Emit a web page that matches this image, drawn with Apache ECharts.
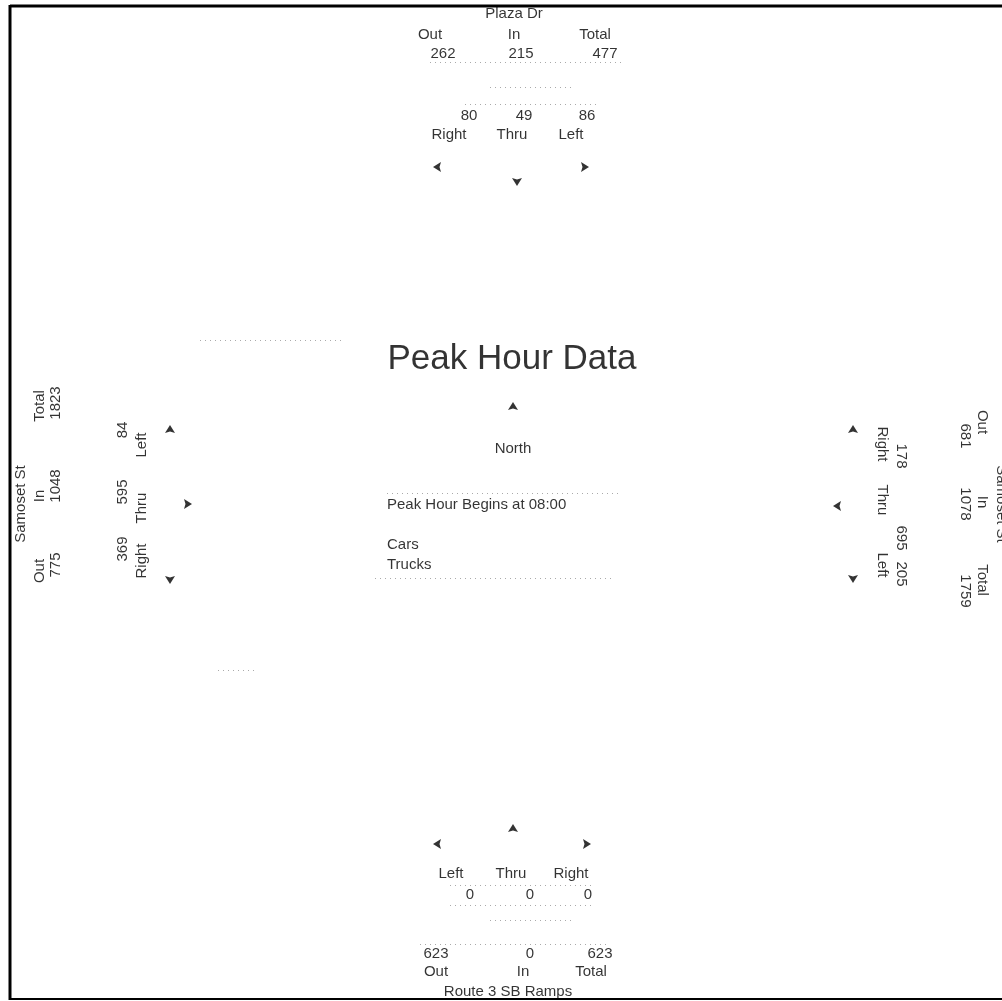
<!DOCTYPE html>
<html>
<head>
<meta charset="utf-8">
<script src="https://cdn.jsdelivr.net/npm/echarts@6/dist/echarts.min.js"></script>
<style>
html,body{margin:0;padding:0;background:#fff;}
#chart{width:1002px;height:1001px;}
</style>
</head>
<body>
<div id="chart"></div>
<script>
// ---------------- DATA ----------------
const title = 'Peak Hour Data';
const northLabel = 'North';
const peakText = 'Peak Hour Begins at 08:00';
const legendItems = ['Cars', 'Trucks'];
const flowLabels = ['Out', 'In', 'Total'];
const moveLabels = ['Right', 'Thru', 'Left'];

const northName = 'Plaza Dr';
const northFlows = [262, 215, 477];   // Out, In, Total
const northMoves = [80, 49, 86];      // Right, Thru, Left

const westName = 'Samoset St';
const westFlows = [775, 1048, 1823];
const westMoves = [369, 595, 84];

const eastName = 'Samoset St';
const eastFlows = [681, 1078, 1759];
const eastMoves = [178, 695, 205];

const southName = 'Route 3 SB Ramps';
const southFlows = [623, 0, 623];
const southMoves = [0, 0, 0];

// ---------------- LAYOUT ----------------
const FONT = '"Liberation Sans", Arial, sans-serif';
const FS = 15;
const L = {
  north: {
    name: [514, 14],
    flowLab: {xs: [430, 514, 595], y: 35},
    flowVal: {xs: [443, 521, 605], y: 54},
    moveVal: {xs: [469, 524, 587], y: 116},
    moveLab: {xs: [449, 512, 571], y: 135},
    arrows: [[437, 167, 90], [517, 182, 180], [585, 167, -90]]
  },
  west: {
    name: [21, 504],
    flowLab: {ys: [571, 496, 406], x: 40},
    flowVal: {ys: [565, 486, 403], x: 56},
    moveVal: {ys: [549, 492, 430], x: 123},
    moveLab: {ys: [561, 508, 445], x: 142},
    arrows: [[170, 580, 180], [188, 504, -90], [170, 429, 0]]
  },
  east: {
    name: [994, 504],
    flowLab: {ys: [422, 502, 580], x: 982},
    flowVal: {ys: [436, 504, 591], x: 965},
    moveVal: {ys: [456, 538, 574], x: 901},
    moveLab: {ys: [444, 500, 565], x: 882},
    arrows: [[853, 429, 0], [837, 506, 90], [853, 579, 180]]
  },
  south: {
    name: [508, 992],
    flowLab: {xs: [436, 523, 591], y: 972},
    flowVal: {xs: [436, 530, 600], y: 954},
    moveVal: {xs: [588, 530, 470], y: 895},   // Right, Thru, Left
    moveLab: {xs: [571, 511, 451], y: 874},
    arrows: [[587, 844, -90], [513, 828, 0], [437, 844, 90]]
  }
};

// ---------------- BUILD ----------------
const texts = [];
const arrows = [];
function addText(x, y, str, rot, size, align, vAlign) {
  texts.push({
    name: String(str),
    value: [x, y],
    label: {rotate: rot || 0, fontSize: size || FS, align: align || 'center', verticalAlign: vAlign || 'middle'}
  });
}
function horiz(cfg, name, flows, moves) {
  addText(cfg.name[0], cfg.name[1], name, 0);
  flowLabels.forEach((t, i) => addText(cfg.flowLab.xs[i], cfg.flowLab.y, t, 0));
  flows.forEach((v, i) => addText(cfg.flowVal.xs[i], cfg.flowVal.y, v, 0));
  moves.forEach((v, i) => addText(cfg.moveVal.xs[i], cfg.moveVal.y, v, 0));
  moveLabels.forEach((t, i) => addText(cfg.moveLab.xs[i], cfg.moveLab.y, t, 0));
  cfg.arrows.forEach(a => arrows.push({value: [a[0], a[1]], symbolRotate: a[2]}));
}
function vert(cfg, name, flows, moves, rot, nameVAlign) {
  addText(cfg.name[0], cfg.name[1], name, rot, FS, 'center', nameVAlign);
  flowLabels.forEach((t, i) => addText(cfg.flowLab.x, cfg.flowLab.ys[i], t, rot));
  flows.forEach((v, i) => addText(cfg.flowVal.x, cfg.flowVal.ys[i], v, rot));
  moves.forEach((v, i) => addText(cfg.moveVal.x, cfg.moveVal.ys[i], v, rot));
  moveLabels.forEach((t, i) => addText(cfg.moveLab.x, cfg.moveLab.ys[i], t, rot));
  cfg.arrows.forEach(a => arrows.push({value: [a[0], a[1]], symbolRotate: a[2]}));
}
horiz(L.north, northName, northFlows, northMoves);
horiz(L.south, southName, southFlows, southMoves);
vert(L.west, westName, westFlows, westMoves, 90, 'middle');
vert(L.east, eastName, eastFlows, eastMoves, -90, 'bottom');

addText(512, 359, title, 0, 35);
addText(513, 449, northLabel, 0);
addText(387, 505, peakText, 0, FS, 'left');
legendItems.forEach((t, i) => addText(387, 545 + i * 20, t, 0, FS, 'left'));
arrows.push({value: [513, 406], symbolRotate: 0});

// faint dotted guide segments (scan grid remnants)
const dotted = [
  [[387, 493], [620, 493]],
  [[375, 578], [615, 578]],
  [[465, 104], [600, 104]],
  [[430, 62], [625, 62]],
  [[490, 87], [575, 87]],
  [[450, 885], [595, 885]],
  [[450, 905], [595, 905]],
  [[490, 920], [575, 920]],
  [[420, 944], [610, 944]],
  [[200, 340], [345, 340]],
  [[218, 670], [256, 670]]
];

const chart = echarts.init(document.getElementById('chart'), null, {renderer: 'canvas'});
chart.setOption({
  backgroundColor: '#ffffff',
  animation: false,
  grid: {left: 0, right: 0, top: 0, bottom: 0},
  xAxis: {type: 'value', min: 0, max: 1002, show: false},
  yAxis: {type: 'value', min: 0, max: 1001, inverse: true, show: false},
  graphic: [
    {type: 'line', shape: {x1: 10, y1: 6, x2: 1002, y2: 6}, style: {stroke: '#000', lineWidth: 3}},
    {type: 'line', shape: {x1: 10, y1: 5, x2: 10, y2: 1000}, style: {stroke: '#000', lineWidth: 3}},
    {type: 'line', shape: {x1: 10, y1: 999, x2: 1002, y2: 999}, style: {stroke: '#000', lineWidth: 2}}
  ],
  series: [
    {
      type: 'lines',
      coordinateSystem: 'cartesian2d',
      silent: true,
      lineStyle: {color: '#aaa', width: 1, type: [1, 4], opacity: 1},
      data: dotted.map(c => ({coords: c}))
    },
    {
      type: 'scatter',
      symbolSize: 0,
      silent: true,
      clip: false,
      label: {
        show: true,
        position: 'inside',
        formatter: '{b}',
        color: '#000',
        fontFamily: FONT,
        fontSize: FS,
        verticalAlign: 'middle'
      },
      data: texts
    },
    {
      type: 'scatter',
      symbol: 'path://M0,0 L5,-8 L10,0 L5,-1.5 Z',
      symbolSize: [10, 8],
      silent: true,
      itemStyle: {color: '#000'},
      data: arrows
    }
  ]
});
</script>
</body>
</html>
